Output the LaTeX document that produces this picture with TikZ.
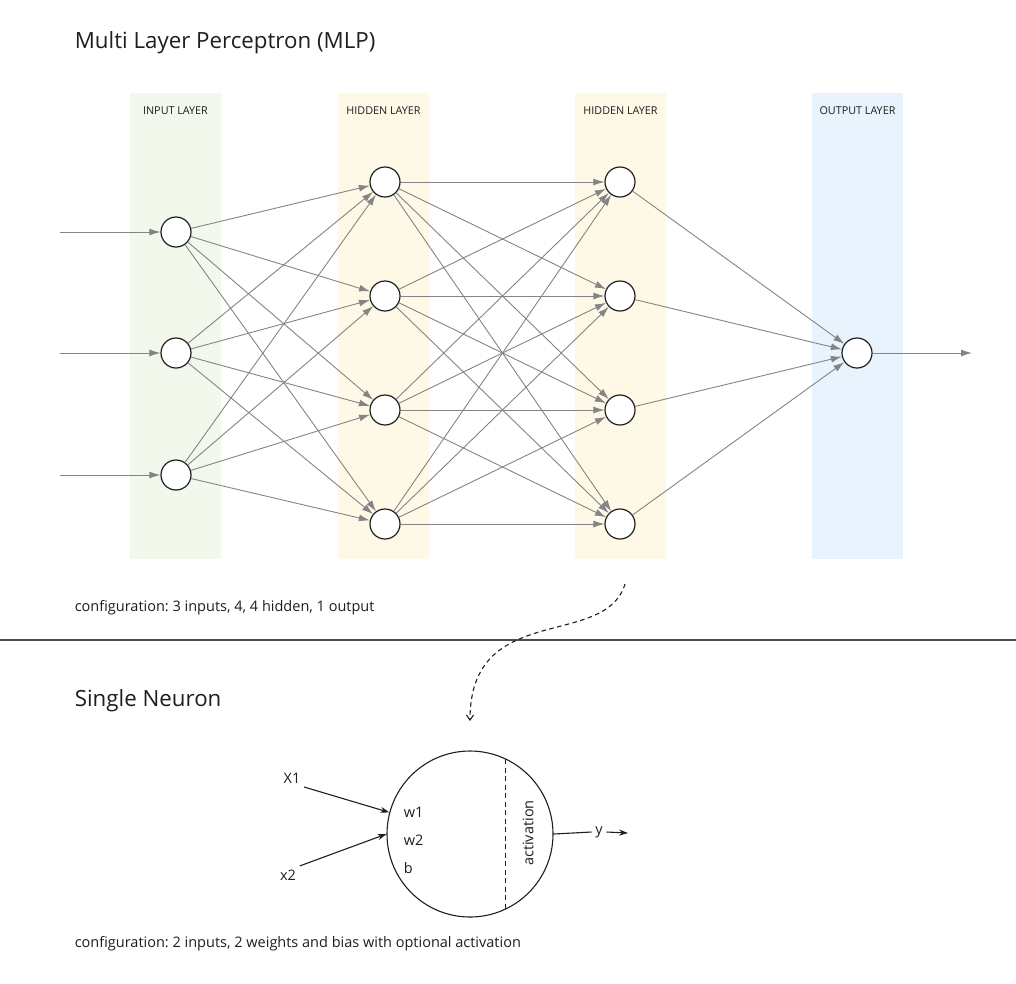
\documentclass[tikz,border=0pt]{standalone}
\usepackage{fontspec}
\setmainfont{Open Sans}
\usetikzlibrary{arrows.meta}
\frenchspacing
\definecolor{inputband}{HTML}{F3F8EC}
\definecolor{hiddenband}{HTML}{FEF8E6}
\definecolor{outputband}{HTML}{E9F3FD}
\definecolor{edgegray}{HTML}{848484}
\definecolor{ink}{HTML}{1E1E1E}
\begin{document}
\begin{tikzpicture}[x = 1pt, y = -1pt, line width = 1pt,
                        neuron/.style = {circle, draw = ink, fill = white, line width = 1.2pt, minimum size = 30pt, inner sep = 0pt},
                        edge/.style = {draw = edgegray, line width = 0.9pt, -{Latex[length = 11pt, width = 7pt]}},
                        wire/.style = {draw = ink, line width = 1.1pt, -{Stealth[length = 9pt, width = 6pt]}},
                        bandlabel/.style = {text = ink, font = \fontsize{10.8}{13}\selectfont},
                        heading/.style = {anchor = west, text = ink, font = \fontsize{22.3}{27}\selectfont},
                        caption/.style = {anchor = west, text = ink, font = \fontsize{14.5}{17}\selectfont},
                        label/.style = {text = ink, font = \fontsize{14.5}{17}\selectfont}]
      \useasboundingbox (0, 0) rectangle (1016, 983);
      % layer bands
      \fill [inputband] (130, 93) rectangle (221, 559);
      \fill [hiddenband] (338, 93) rectangle (429, 559);
      \fill [hiddenband] (575, 93) rectangle (666, 559);
      \fill [outputband] (812, 93) rectangle (903, 559);
      \node [bandlabel] (inlabel) at (175.5, 111){INPUT LAYER};
      \node [bandlabel] (halabel) at (383.5, 111){HIDDEN LAYER};
      \node [bandlabel] (hblabel) at (620.5, 111){HIDDEN LAYER};
      \node [bandlabel] (outlabel) at (857.5, 111){OUTPUT LAYER};
      \node [heading] (mlptitle) at (71, 43){Multi Layer Perceptron (MLP)};
      % neurons
      \node [neuron] (i1) at (176, 232){};
      \node [neuron] (i2) at (176, 353){};
      \node [neuron] (i3) at (176, 475){};
      \node [neuron] (h1) at (385, 182){};
      \node [neuron] (h2) at (385, 296){};
      \node [neuron] (h3) at (385, 410){};
      \node [neuron] (h4) at (385, 524){};
      \node [neuron] (g1) at (620, 182){};
      \node [neuron] (g2) at (620, 296){};
      \node [neuron] (g3) at (620, 410){};
      \node [neuron] (g4) at (620, 524){};
      \node [neuron] (o) at (857, 353){};
      \coordinate (x1in) at (60, 232);
      \coordinate (x2in) at (60, 353);
      \coordinate (x3in) at (60, 475);
      \coordinate (yout) at (972, 353);
      % connections
      \draw [edge] (x1in) -- (i1);
      \draw [edge] (x2in) -- (i2);
      \draw [edge] (x3in) -- (i3);
      \foreach \a in {1, 2, 3}
        \foreach \b in {1, 2, 3, 4}
          \draw [edge] (i\a) -- (h\b);
      \foreach \a in {1, 2, 3, 4}
        \foreach \b in {1, 2, 3, 4}
          \draw [edge] (h\a) -- (g\b);
      \foreach \a in {1, 2, 3, 4}
        \draw [edge] (g\a) -- (o);
      \draw [edge] (o) -- (yout);
      \node [caption] (mlpconf) at (71, 608){configuration: 3 inputs, 4, 4 hidden, 1 output};
      % separator
      \coordinate (sepl) at (0, 640);
      \coordinate (sepr) at (1016, 640);
      \draw [draw = black!70, line width = 1.2pt] (sepl) -- (sepr);
      \coordinate (zoomfrom) at (625, 584);
      \coordinate (zoomto) at (470, 721);
      \draw [ink, line width = 1.1pt, dash pattern = on 4.5pt off 3.5pt, -{Straight Barb[length = 5pt, width = 7pt]}]
        (zoomfrom) .. controls (605, 650) and (470, 600) .. (zoomto);
      % single neuron
      \node [heading] (celltitle) at (71, 701){Single Neuron};
      \node [circle, draw = ink, line width = 1.1pt, minimum size = 166pt, inner sep = 0pt] (cell) at (470, 834){};
      \draw [ink, line width = 1pt, dash pattern = on 5pt off 3.5pt] (505, 759) -- (505, 909);
      \node [label, rotate = 90] (act) at (528, 833){activation};
      \node [label, anchor = west] (w1) at (400, 812){w1};
      \node [label, anchor = west] (w2) at (400, 840){w2};
      \node [label, anchor = west] (bias) at (400, 868){b};
      \node [label] (x1) at (292, 778){X1};
      \node [label] (x2) at (288, 875){x2};
      \node [label] (ylabel) at (599, 832){y};
      \coordinate (yend) at (628, 833);
      \draw [wire] (x1.south east) -- (cell.165);
      \draw [wire] (x2.north east) -- (cell.west);
      \draw [ink, line width = 1.1pt] (cell.east) -- (ylabel.west);
      \draw [wire] (ylabel.east) -- (yend);
      \node [caption] (cellconf) at (71, 944){configuration: 2 inputs, 2 weights and bias with optional activation};
    \end{tikzpicture}
\end{document}
